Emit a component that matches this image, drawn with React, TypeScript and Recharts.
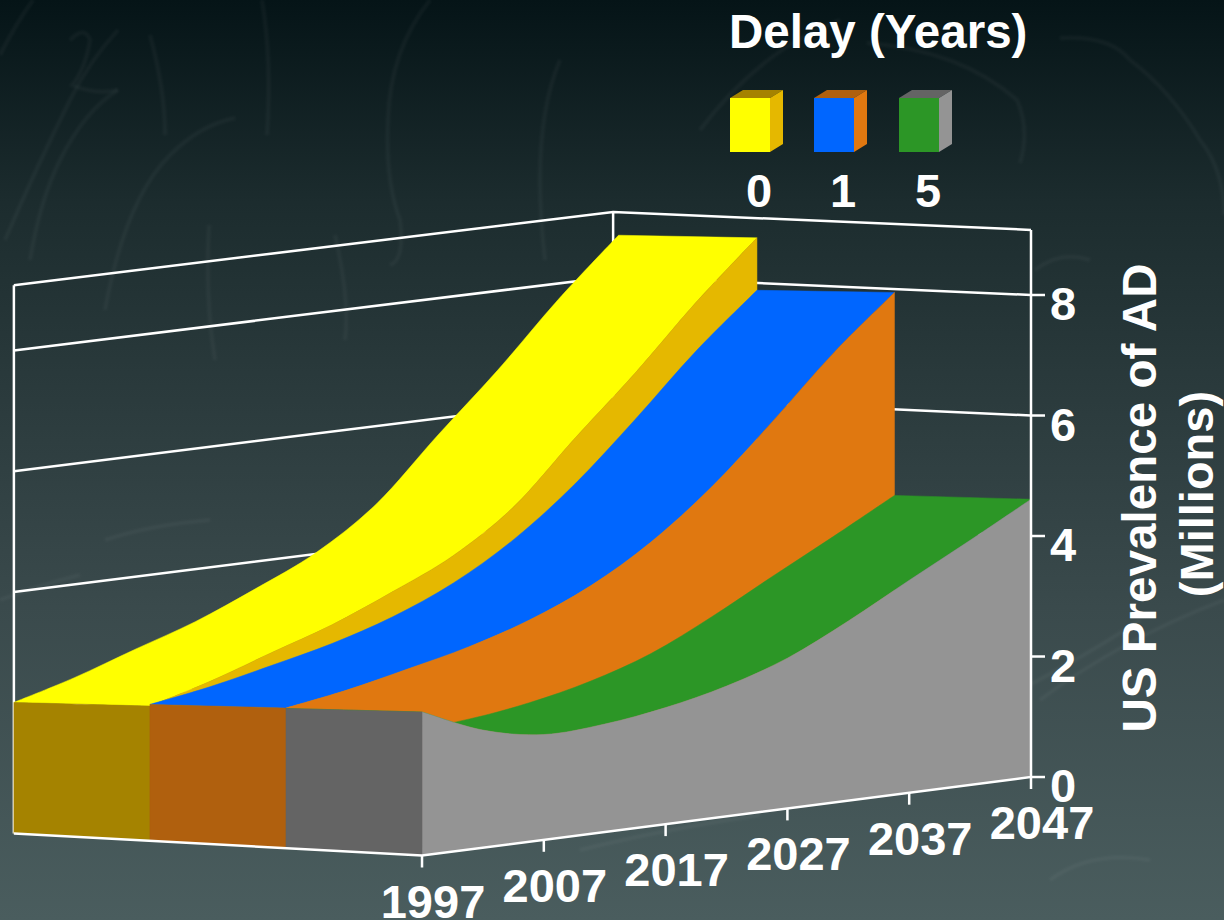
import React from 'react';
import { ScatterChart, Scatter, XAxis, YAxis } from 'recharts';

const years = [1997, 2002, 2007, 2012, 2017, 2022, 2027, 2032, 2037, 2042, 2047];
const delay0 = [2.31, 2.6, 2.95, 3.29, 3.72, 4.2, 4.9, 5.92, 6.9, 7.96, 8.91];
const delay1 = [2.337, 2.507, 2.73, 2.97, 3.29, 3.73, 4.34, 5.14, 6.11, 7.13, 8.02];
const delay5 = [2.33, 1.913, 1.717, 1.763, 1.908, 2.137, 2.472, 2.96, 3.51, 4.05, 4.61];
const floorValues = [0, 0, 0, 0, 0, 0, 0, 0, 0, 0, 0];
const yearTicks = [1997, 2007, 2017, 2027, 2037, 2047];
const valueTicks = [0, 2, 4, 6, 8];
const wallTop = 9.08;
const wallCorner = 2046.2;

const font = '"Liberation Sans", Arial, sans-serif';
const WHITE = '#ffffff';

type Pt = { x: number; y: number };

// the slide is a fake 3D chart: depth slides a point left along the year axis and up the value axis
const floorLevel = (year: number, depth: number) => -(2047 - year) * 0.02606 + depth * 0.1212;
const surfaceScale = (year: number, depth: number) =>
  (60.25 +
    (2047 - year) * 0.027 -
    depth * (0.8 + (2047 - year) * 0.016) +
    depth * depth * 0.055 * ((year - 1997) / 50)) /
  60.25;
const wallScale = (year: number, depth: number) => (60.25 - depth * 0.1 + (2047 - year) * 0.009) / 60.25;
const depthShift = (year: number, depth: number) => depth * 11.17 + depth * depth * 0.04 * ((year - 1997) / 50);

const onSurface = (year: number, value: number, depth: number): Pt => ({
  x: year - depthShift(year, depth),
  y: floorLevel(year, depth) + value * surfaceScale(year, depth),
});
const onWall = (year: number, value: number, depth: number): Pt => ({
  x: year - depth * 11.17,
  y: floorLevel(year, depth) + value * wallScale(year, depth),
});

const edge = (values: number[], depth: number) => years.map((y, i) => onSurface(y, values[i], depth));

// every face is two runs of points of equal length: upper edge, then lower edge walked backwards
const topFace = (values: number[], depth: number) => [
  ...edge(values, depth),
  ...edge(values, depth + 1).reverse(),
];
const frontFace = (values: number[], depth: number) => [
  ...edge(values, depth),
  ...edge(floorValues, depth).reverse(),
];
const sideFace = (values: number[], depth: number) => [
  onSurface(1997, values[0], depth + 1),
  onSurface(1997, values[0], depth),
  onSurface(1997, 0, depth),
  onSurface(1997, 0, depth + 1),
];

const facets = [
  { points: topFace(delay0, 2), fill: '#ffff00' },
  { points: frontFace(delay0, 2), fill: '#e5b800' },
  { points: sideFace(delay0, 2), fill: '#a58300' },
  { points: topFace(delay1, 1), fill: '#0066ff' },
  { points: frontFace(delay1, 1), fill: '#e07810' },
  { points: sideFace(delay1, 1), fill: '#b0600e' },
  { points: topFace(delay5, 0), fill: '#2c9626' },
  { points: frontFace(delay5, 0), fill: '#949494' },
  { points: sideFace(delay5, 0), fill: '#646464' },
];

const wallLines = [...valueTicks.slice(1), wallTop].map(v => [
  onWall(1997, v, 3),
  onWall(wallCorner, v, 3),
  onWall(2047, v, 0),
]);
const wallEdges = [
  [onWall(1997, 0, 3), onWall(1997, wallTop, 3)],
  [onWall(wallCorner, 0, 3), onWall(wallCorner, wallTop, 3)],
];
const floorEdge = [onWall(1997, 0, 3), onWall(1997, 0, 0), onWall(2047, 0, 0), onWall(2047, wallTop, 0)];

const toPoints = (pts: Pt[]) => pts.map(p => `${p.x},${p.y}`).join(' ');

// catmull-rom through a run of points, the original curves are smooth
const smoothRun = (pts: Pt[]) => {
  let d = '';
  for (let i = 0; i < pts.length - 1; i++) {
    const p0 = pts[Math.max(i - 1, 0)];
    const p1 = pts[i];
    const p2 = pts[i + 1];
    const p3 = pts[Math.min(i + 2, pts.length - 1)];
    d += ` C${p1.x + (p2.x - p0.x) / 6} ${p1.y + (p2.y - p0.y) / 6} ${p2.x - (p3.x - p1.x) / 6} ${
      p2.y - (p3.y - p1.y) / 6
    } ${p2.x} ${p2.y}`;
  }
  return d;
};

const facet = (fill: string) => (props: any) => {
  const pts: Pt[] = props.points;
  const half = pts.length / 2;
  const upper = pts.slice(0, half);
  const lower = pts.slice(half);
  const d = `M${upper[0].x} ${upper[0].y}${smoothRun(upper)} L${lower[0].x} ${lower[0].y}${smoothRun(lower)} Z`;
  return <path d={d} fill={fill} stroke={fill} strokeWidth={0.5} />;
};
const whiteLine = (props: any) => (
  <polyline points={toPoints(props.points)} fill="none" stroke={WHITE} strokeWidth={2.5} />
);
const noDot = () => <g />;

const YearTick = (props: any) => {
  const year = props.payload.value;
  const floorY = 777 + (2047 - year) * 1.57;
  return (
    <g>
      <line x1={props.x} x2={props.x} y1={floorY} y2={floorY + 12} stroke={WHITE} strokeWidth={2.5} />
      <text
        x={props.x + 11}
        y={floorY + 62}
        textAnchor="middle"
        fill={WHITE}
        fontFamily={font}
        fontWeight="bold"
        fontSize={47}
      >
        {year}
      </text>
    </g>
  );
};

const ValueTick = (props: any) => (
  <text x={props.x + 3} y={props.y + 25} fill={WHITE} fontFamily={font} fontWeight="bold" fontSize={47}>
    {props.payload.value}
  </text>
);

const legendKeys = [
  { label: '0', x: 730, front: '#ffff00', side: '#e5b800', top: '#a58300' },
  { label: '1', x: 814, front: '#0066ff', side: '#e07810', top: '#b0600e' },
  { label: '5', x: 899, front: '#2c9626', side: '#949494', top: '#646464' },
];

const sketchLines = [
  'M0 55 Q15 25 33 0',
  'M5 240 Q35 170 70 100 Q90 60 118 30',
  'M30 260 Q40 200 60 160 Q85 110 118 90',
  'M70 40 Q85 25 90 40 Q85 70 72 85 Q95 95 118 90',
  'M150 35 Q165 90 165 135',
  'M105 310 Q125 200 170 155 Q200 125 235 118',
  'M262 0 Q272 60 267 135',
  'M430 0 Q390 50 388 120 Q385 180 400 220 Q405 260 390 265',
  'M209 225 Q205 300 215 360',
  'M335 235 Q350 300 345 340',
  'M867 43 Q960 50 1017 100 Q1030 130 1020 163',
  'M1060 38 Q1110 35 1130 60 Q1170 90 1200 140 Q1224 170 1224 215',
  'M700 130 Q760 50 840 20',
  'M560 60 Q530 130 545 260',
  'M1035 270 Q1060 250 1090 260',
  'M1000 700 Q1080 660 1140 620',
  'M1040 700 Q1120 640 1224 600',
  'M580 850 Q660 830 760 815',
  'M0 600 Q40 585 80 575',
  'M105 540 Q150 525 210 520',
  'M1050 880 Q1090 850 1150 860',
];

const App = () => (
  <div
    style={{
      position: 'absolute',
      left: 0,
      top: 0,
      width: 1224,
      height: 920,
      overflow: 'hidden',
      background: 'linear-gradient(180deg, #051417 0%, #1c2c2e 22%, #2a3a3c 42%, #3a4a4c 66%, #4a5d5e 100%)',
    }}
  >
    <svg width={1224} height={920} style={{ position: 'absolute', left: 0, top: 0 }}>
      <filter id="soft">
        <feGaussianBlur stdDeviation="1.2" />
      </filter>
      <g filter="url(#soft)">
        {sketchLines.map(d => (
          <path key={d} d={d} fill="none" stroke="#ffffff" strokeOpacity={0.035} strokeWidth={4} />
        ))}
      </g>
    </svg>
    <div style={{ position: 'absolute', left: 0, top: 0 }}>
      <ScatterChart width={1224} height={921} margin={{ top: 0, right: 192, bottom: 0, left: 0 }}>
        <XAxis
          type="number"
          dataKey="x"
          domain={[1962.35, 2047]}
          ticks={yearTicks}
          interval={0}
          height={1}
          axisLine={false}
          tickLine={false}
          tick={YearTick}
        />
        <YAxis
          type="number"
          dataKey="y"
          orientation="right"
          domain={[-2.373, 12.896]}
          ticks={valueTicks}
          interval={0}
          width={1}
          axisLine={false}
          tickSize={14}
          tickLine={{ stroke: WHITE, strokeWidth: 2.5 }}
          tick={ValueTick}
        />
        {wallLines.map((points, i) => (
          <Scatter key={`wall-${i}`} data={points} line={whiteLine} shape={noDot} isAnimationActive={false} />
        ))}
        {wallEdges.map((points, i) => (
          <Scatter key={`edge-${i}`} data={points} line={whiteLine} shape={noDot} isAnimationActive={false} />
        ))}
        {facets.map((f, i) => (
          <Scatter key={`facet-${i}`} data={f.points} line={facet(f.fill)} shape={noDot} isAnimationActive={false} />
        ))}
        <Scatter data={floorEdge} line={whiteLine} shape={noDot} isAnimationActive={false} />
      </ScatterChart>
    </div>
    <svg width={1224} height={920} style={{ position: 'absolute', left: 0, top: 0 }}>
      <g fill={WHITE} fontFamily={font} fontWeight="bold" fontSize={47}>
        <text x={729} y={48} fontSize={47.5}>
          Delay (Years)
        </text>
        {legendKeys.map(k => (
          <g key={k.label}>
            <rect x={k.x} y={98} width={40} height={54} fill={k.front} />
            <polygon points={`${k.x},98 ${k.x + 13},90 ${k.x + 53},90 ${k.x + 40},98`} fill={k.top} />
            <polygon points={`${k.x + 40},98 ${k.x + 53},90 ${k.x + 53},144 ${k.x + 40},152`} fill={k.side} />
            <text x={k.x + 29} y={207} textAnchor="middle">
              {k.label}
            </text>
          </g>
        ))}
        <text transform="translate(1156 498) rotate(-90)" textAnchor="middle" fontSize={47.6}>
          US Prevalence of AD
        </text>
        <text transform="translate(1213 494) rotate(-90)" textAnchor="middle" fontSize={47}>
          (Millions)
        </text>
      </g>
    </svg>
  </div>
);

export default App;
